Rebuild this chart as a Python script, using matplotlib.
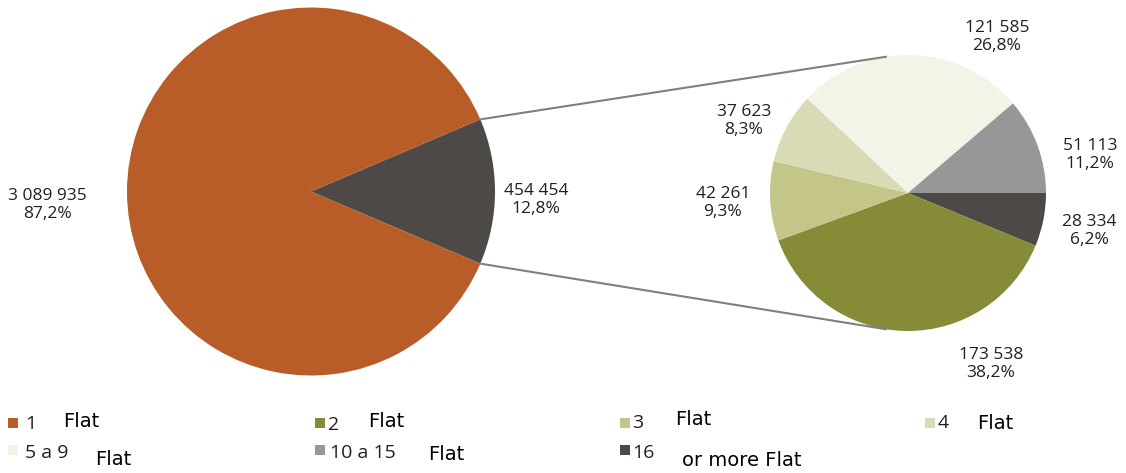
import numpy as np
import matplotlib.pyplot as plt
from matplotlib.patches import Rectangle

# flats per building, by number of flats in the building
categories = ["1", "2", "3", "4", "5 a 9", "10 a 15", "16"]
suffixes = ["Flat", "Flat", "Flat", "Flat", "Flat", "Flat", "or more Flat"]
flats = [3089935, 173538, 42261, 37623, 121585, 51113, 28334]
colors = ["#b85c28", "#868b38", "#c4c588", "#d9dbb6", "#f1f4e6", "#989697", "#4d4946"]

# order of the wedges in the detail pie, clockwise from 3 o'clock
detail_order = [6, 1, 2, 3, 4, 5]

W, H = 1126, 473
TXT = "#231f20"
NUM_FONT = ["Open Sans", "DejaVu Sans"]


def py(y):
    # work in image-like coordinates (y grows downward)
    return H - y


def fmt_num(v):
    return f"{v:,}".replace(",", " ")


def fmt_pct(p):
    return f"{p:.1f}%".replace(".", ",")


fig = plt.figure(figsize=(W / 100, H / 100), dpi=100)
ax = fig.add_axes([0, 0, 1, 1])

# main pie: single flat vs. everything else
single = flats[0]
multi = sum(flats[1:])
total = single + multi
big_c = (311, py(191.5))
big_r = 184
half = multi / total * 180
ax.pie([multi, single], colors=[colors[6], colors[0]], startangle=-half,
       center=big_c, radius=big_r, frame=True, wedgeprops=dict(linewidth=0))

# detail pie for buildings with 2+ flats
small_c = (908, py(193))
small_r = 138
ax.pie([flats[i] for i in detail_order], colors=[colors[i] for i in detail_order],
       startangle=0, counterclock=False, center=small_c, radius=small_r,
       frame=True, wedgeprops=dict(linewidth=0))

# connector lines between the two pies
link_angle = 98.8
for s in (1, -1):
    a0 = np.deg2rad(s * half)
    a1 = np.deg2rad(s * link_angle)
    x0 = big_c[0] + big_r * np.cos(a0)
    y0 = big_c[1] + big_r * np.sin(a0)
    x1 = small_c[0] + small_r * np.cos(a1)
    y1 = small_c[1] + small_r * np.sin(a1)
    ax.plot([x0, x1], [y0, y1], color="#808080", lw=1.5, solid_capstyle="butt")

# value labels
big_labels = [(single, total, (47, 205)), (multi, total, (536, 200))]
small_pos = {1: (991, 364), 2: (723, 203), 3: (744, 121), 4: (997, 37),
             5: (1090, 155), 6: (1089, 231)}
for v, t, (x, y) in big_labels:
    ax.text(x, py(y), f"{fmt_num(v)}\n{fmt_pct(v / t * 100)}", ha="center", va="center",
            fontsize=12.5, color=TXT, family=NUM_FONT, linespacing=1.1)
for i, (x, y) in small_pos.items():
    ax.text(x, py(y), f"{fmt_num(flats[i])}\n{fmt_pct(flats[i] / multi * 100)}",
            ha="center", va="center", fontsize=12.5, color=TXT, family=NUM_FONT,
            linespacing=1.1)

# legend, drawn by hand
sq_x = [8, 315, 620, 925, 8, 315, 620]
sq_y = [418, 418, 418, 418, 445, 445, 445]
num_x = [25, 328, 632, 938, 25, 330, 632]
num_base = [429, 430, 428, 428, 458, 458, 458]
word_x = [63, 368, 675, 977, 95, 428, 682]
word_base = [427, 427, 425, 429, 465, 460, 466]
for i, cat in enumerate(categories):
    ax.add_patch(Rectangle((sq_x[i], py(sq_y[i] + 10)), 10, 10,
                           facecolor=colors[i], edgecolor="none"))
    ax.text(num_x[i], py(num_base[i]), cat, ha="left", va="baseline",
            fontsize=14, color=TXT, family=NUM_FONT)
    ax.text(word_x[i], py(word_base[i]), suffixes[i], ha="left", va="baseline",
            fontsize=14, color="black", family="DejaVu Sans")

ax.set_xlim(0, W)
ax.set_ylim(0, H)
ax.set_aspect("equal")
ax.axis("off")

fig.savefig("out.png", dpi=100, facecolor="white")
